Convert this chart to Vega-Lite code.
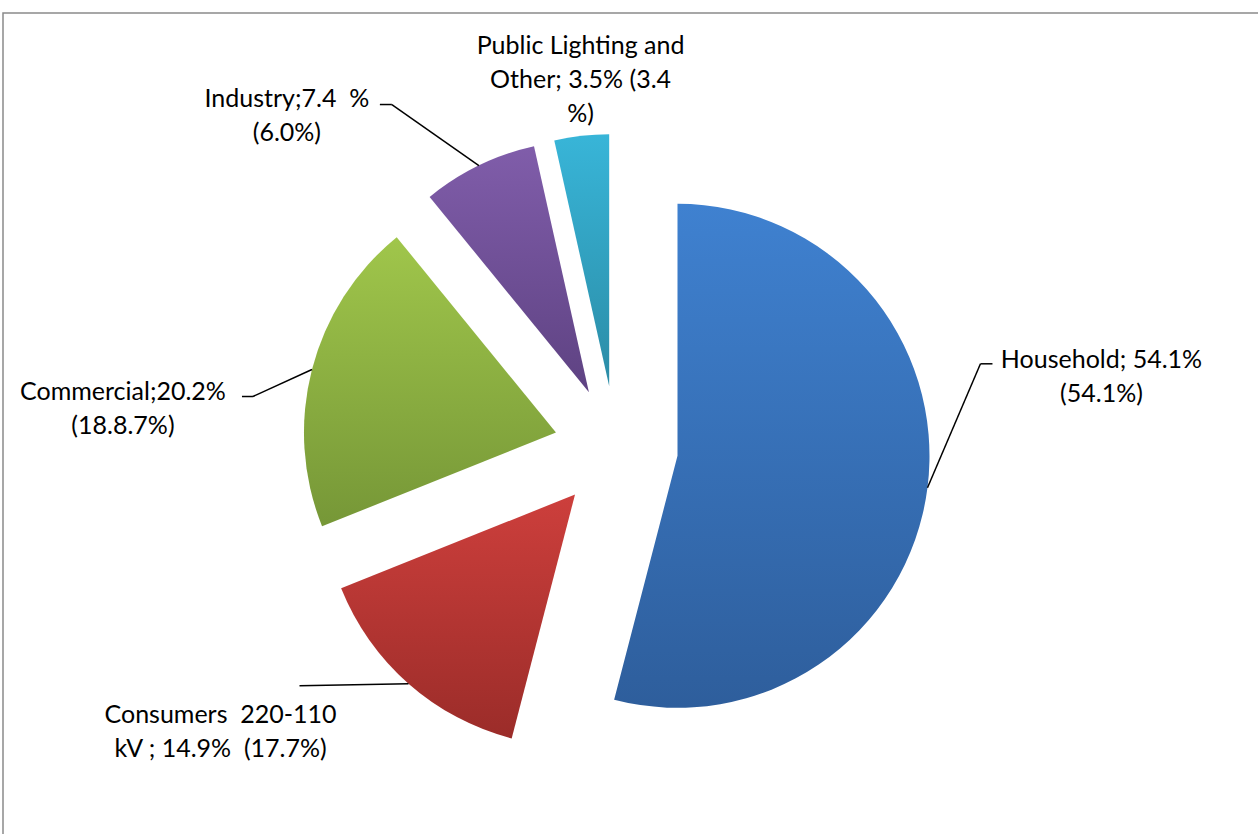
{
  "$schema": "https://vega.github.io/schema/vega-lite/v6.json",
  "width": 1265,
  "height": 830,
  "autosize": {"type": "none"},
  "padding": {"left": 3, "top": 13, "right": 0, "bottom": 0},
  "background": "white",
  "config": {"view": {"stroke": "#8a8a8a", "strokeWidth": 1.5}},
  "data": {
    "values": [
      {"i": 0, "name": "Household", "value": 54.1, "label": ["Household; 54.1%", "(54.1%)"]},
      {"i": 1, "name": "Consumers 220-110 kV", "value": 14.9, "label": ["Consumers\u00a0\u00a0220-110", "\u00a0kV ; 14.9%\u00a0\u00a0(17.7%)"]},
      {"i": 2, "name": "Commercial", "value": 20.2, "label": ["Commercial;20.2%", "(18.8.7%)"]},
      {"i": 3, "name": "Industry", "value": 7.4, "label": ["Industry;7.4\u00a0\u00a0%", "(6.0%)"]},
      {"i": 4, "name": "Public Lighting and Other", "value": 3.5, "label": ["Public Lighting and", "Other; 3.5% (3.4", "%)"]}
    ]
  },
  "transform": [
    {"stack": "value", "groupby": [], "sort": [{"field": "i", "order": "ascending"}], "as": ["s0", "s1"], "offset": "normalize"},
    {"calculate": "PI*(datum.s0+datum.s1)", "as": "mid"},
    {"calculate": "613 + 62*sin(datum.mid)", "as": "cx"},
    {"calculate": "435 - 62*cos(datum.mid)", "as": "cy"},
    {"calculate": "datum.cx + 252*sin(datum.mid)", "as": "ax"},
    {"calculate": "datum.cy - 252*cos(datum.mid)", "as": "ay"},
    {"calculate": "datum.ax + [53, -109, -59, -87, 0][datum.i]", "as": "ex"},
    {"calculate": "datum.ay + [-124, 2, 27, -61, 0][datum.i]", "as": "ey"},
    {"calculate": "datum.ax + [65, -109, -70, -99, 0][datum.i]", "as": "fx"},
    {"calculate": "datum.ay + [-124, 2, 27, -61, 0][datum.i]", "as": "fy"},
    {"calculate": "datum.ax + [174, -188, -189, -192, -1][datum.i]", "as": "lx"},
    {"calculate": "datum.ay + [-120, 39, 30, -59, -82][datum.i]", "as": "ly"}
  ],
  "layer": [
    {
      "mark": {"type": "arc", "radius": 252, "stroke": null},
      "encoding": {
        "x": {"field": "cx", "type": "quantitative", "stack": null, "axis": null, "scale": {"domain": [0, 1265], "range": [0, 1265], "zero": false, "nice": false}},
        "y": {"field": "cy", "type": "quantitative", "stack": null, "axis": null, "scale": {"domain": [0, 830], "range": [0, 830], "zero": false, "nice": false}},
        "theta": {"field": "s0", "type": "quantitative", "stack": null, "scale": {"domain": [0, 1], "range": [0, 6.283185307179586]}},
        "theta2": {"field": "s1"},
        "fill": {
          "condition": [
            {"test": "datum.i === 0", "value": {"gradient": "linear", "x1": 0, "y1": 0, "x2": 0, "y2": 1, "stops": [{"offset": 0, "color": "#3F81D0"}, {"offset": 1, "color": "#2E5E9C"}]}},
            {"test": "datum.i === 1", "value": {"gradient": "linear", "x1": 0, "y1": 0, "x2": 0, "y2": 1, "stops": [{"offset": 0, "color": "#CD3F3C"}, {"offset": 1, "color": "#9B2C29"}]}},
            {"test": "datum.i === 2", "value": {"gradient": "linear", "x1": 0, "y1": 0, "x2": 0, "y2": 1, "stops": [{"offset": 0, "color": "#A0C64B"}, {"offset": 1, "color": "#769737"}]}},
            {"test": "datum.i === 3", "value": {"gradient": "linear", "x1": 0, "y1": 0, "x2": 0, "y2": 1, "stops": [{"offset": 0, "color": "#805DAA"}, {"offset": 1, "color": "#5E4282"}]}}
          ],
          "value": {"gradient": "linear", "x1": 0, "y1": 0, "x2": 0, "y2": 1, "stops": [{"offset": 0, "color": "#38B5D8"}, {"offset": 1, "color": "#2B8CA6"}]}
        }
      }
    },
    {
      "transform": [{"filter": "datum.i < 4"}],
      "mark": {"type": "rule", "color": "black", "strokeWidth": 1.5},
      "encoding": {
        "x": {"field": "ax", "type": "quantitative", "stack": null, "axis": null, "scale": {"domain": [0, 1265], "range": [0, 1265], "zero": false, "nice": false}},
        "y": {"field": "ay", "type": "quantitative", "stack": null, "axis": null, "scale": {"domain": [0, 830], "range": [0, 830], "zero": false, "nice": false}},
        "x2": {"field": "ex"},
        "y2": {"field": "ey"}
      }
    },
    {
      "transform": [{"filter": "datum.i < 4"}],
      "mark": {"type": "rule", "color": "black", "strokeWidth": 1.5},
      "encoding": {
        "x": {"field": "ex", "type": "quantitative", "stack": null, "axis": null, "scale": {"domain": [0, 1265], "range": [0, 1265], "zero": false, "nice": false}},
        "y": {"field": "ey", "type": "quantitative", "stack": null, "axis": null, "scale": {"domain": [0, 830], "range": [0, 830], "zero": false, "nice": false}},
        "x2": {"field": "fx"},
        "y2": {"field": "fy"}
      }
    },
    {
      "mark": {"type": "text", "font": "Lato", "fontSize": 25, "lineHeight": 34, "align": "center", "baseline": "alphabetic", "color": "black"},
      "encoding": {
        "x": {"field": "lx", "type": "quantitative", "stack": null, "axis": null, "scale": {"domain": [0, 1265], "range": [0, 1265], "zero": false, "nice": false}},
        "y": {"field": "ly", "type": "quantitative", "stack": null, "axis": null, "scale": {"domain": [0, 830], "range": [0, 830], "zero": false, "nice": false}},
        "text": {"field": "label"}
      }
    }
  ]
}
